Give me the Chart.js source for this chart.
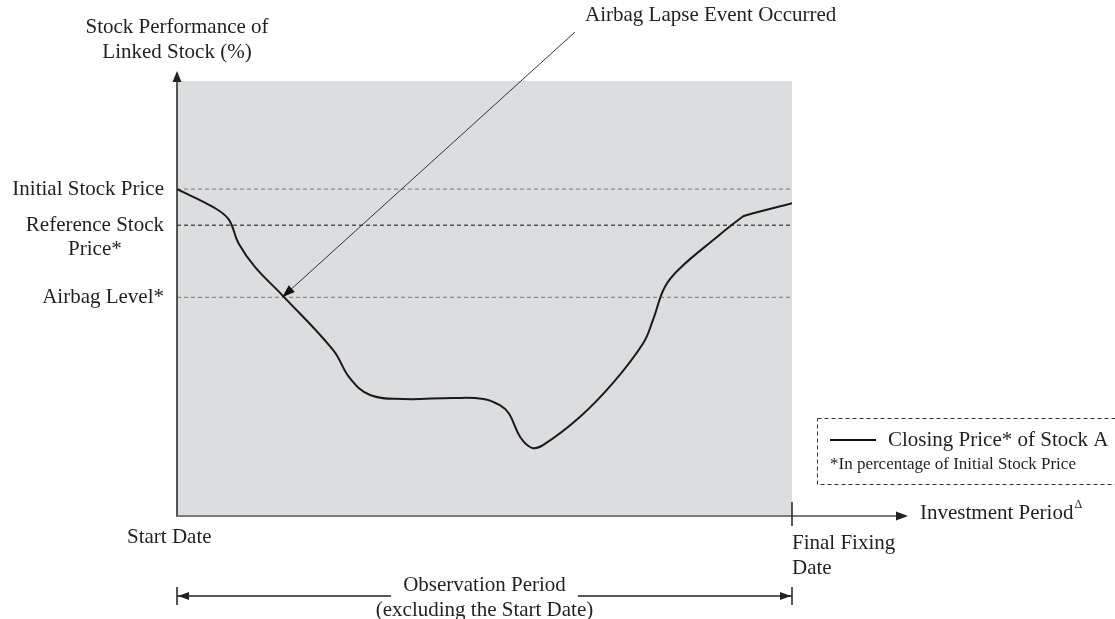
<!DOCTYPE html>
<html>
<head>
<meta charset="utf-8">
<script src="https://cdn.jsdelivr.net/npm/chart.js@4"></script>
<style>
  html, body { margin: 0; padding: 0; background: #fff; }
  #wrap { width: 1115px; height: 619px; position: relative; }
</style>
</head>
<body>
<div id="wrap"><canvas id="airbagChart"></canvas></div>
<script>
// closing price of stock A, in % of the initial stock price (x = share of the investment period)
const stockX = [0, 5.9, 8.4, 10.0, 12.7, 17.1, 25.4, 28.1, 31.4, 36.7, 44.9, 49.8, 52.5, 54.0, 55.8, 57.7, 59.5, 65.5, 70.9, 75.8, 77.4, 79.3, 81.8, 87.2, 91.9, 92.7, 100];
const stockY = [100, 94.5, 90.8, 83.5, 76.2, 67.7, 50.9, 42.4, 37.2, 36.0, 36.3, 36.0, 34.1, 31.5, 24.4, 21.1, 21.9, 30.5, 40.9, 53.0, 60.1, 70.1, 75.9, 84.5, 91.5, 92.1, 95.7];

// reference levels drawn as dashed lines
const levelNames = [['Initial Stock Price'], ['Reference Stock', 'Price*'], ['Airbag Level*']];
const levelValues = [100, 89, 67];
const levelColors = ['#8c8c8c', '#555555', '#8c8c8c'];

const lapseX = 17.1; // where the curve crosses the airbag level

const FONT = '"Liberation Serif", "Times New Roman", serif';
const INK = '#231f20';

function arrowHead(ctx, x, y, angle, len, half) {
    ctx.save();
    ctx.translate(x, y);
    ctx.rotate(angle);
    ctx.beginPath();
    ctx.moveTo(0, 0);
    ctx.lineTo(-len, -half);
    ctx.lineTo(-len, half);
    ctx.closePath();
    ctx.fill();
    ctx.restore();
}

const diagramPlugin = {
    id: 'diagram',
    beforeDraw(chart) {
        const { ctx, chartArea: a } = chart;
        ctx.save();
        ctx.fillStyle = '#dcdddf';
        ctx.fillRect(a.left, a.top, a.right - a.left, a.bottom - a.top);
        ctx.restore();
    },
    afterDraw(chart) {
        const { ctx, chartArea: a } = chart;
        const xs = chart.scales.x, ys = chart.scales.y;
        ctx.save();

        // y axis with arrow
        ctx.strokeStyle = '#222';
        ctx.fillStyle = '#222';
        ctx.lineWidth = 1.5;
        ctx.beginPath();
        ctx.moveTo(a.left, a.bottom);
        ctx.lineTo(a.left, 78);
        ctx.stroke();
        arrowHead(ctx, a.left, 71, -Math.PI / 2, 11, 4.5);

        // x axis with arrow
        ctx.strokeStyle = '#7a7a7a';
        ctx.fillStyle = '#222';
        ctx.lineWidth = 2;
        ctx.beginPath();
        ctx.moveTo(a.left, a.bottom - 1);
        ctx.lineTo(898, a.bottom - 1);
        ctx.stroke();
        arrowHead(ctx, 908, a.bottom - 1, 0, 12, 4.5);

        // final fixing tick
        ctx.strokeStyle = '#222';
        ctx.lineWidth = 1.5;
        ctx.beginPath();
        ctx.moveTo(a.right, 502);
        ctx.lineTo(a.right, 526);
        ctx.stroke();

        ctx.fillStyle = INK;
        ctx.font = '21px ' + FONT;
        ctx.textBaseline = 'middle';

        // y axis title
        ctx.textAlign = 'center';
        ctx.fillText('Stock Performance of', a.left, 27);
        ctx.fillText('Linked Stock (%)', a.left, 52);

        // level labels
        levelNames.forEach((lines, i) => {
            const py = ys.getPixelForValue(levelValues[i]);
            if (lines.length === 1) {
                ctx.textAlign = 'right';
                ctx.fillText(lines[0], 164, py);
            } else {
                const w = ctx.measureText(lines[0]).width;
                ctx.textAlign = 'center';
                lines.forEach((t, k) => ctx.fillText(t, 164 - w / 2, py + k * 24));
            }
        });

        // x axis texts
        ctx.textAlign = 'left';
        ctx.fillText('Start Date', 127, 537);
        ctx.fillText('Final Fixing', a.right, 543);
        ctx.fillText('Date', a.right, 568);
        ctx.fillText('Investment Period', 920, 513);
        const ipw = ctx.measureText('Investment Period').width;
        ctx.font = '12px ' + FONT;
        ctx.fillText('\u0394', 920 + ipw + 1, 505);

        // observation period
        ctx.font = '21px ' + FONT;
        const mid = (a.left + a.right) / 2;
        const obsY = 596;
        ctx.textAlign = 'center';
        ctx.fillText('Observation Period', mid, 585);
        ctx.fillText('(excluding the Start Date)', mid, 610);
        const gap = ctx.measureText('Observation Period').width / 2 + 12;
        ctx.strokeStyle = '#222';
        ctx.fillStyle = '#222';
        ctx.lineWidth = 1.5;
        ctx.beginPath();
        ctx.moveTo(a.left, obsY); ctx.lineTo(mid - gap, obsY);
        ctx.moveTo(mid + gap, obsY); ctx.lineTo(a.right, obsY);
        ctx.moveTo(a.left, 587); ctx.lineTo(a.left, 605);
        ctx.moveTo(a.right, 587); ctx.lineTo(a.right, 605);
        ctx.stroke();
        arrowHead(ctx, a.left + 1, obsY, Math.PI, 11, 4);
        arrowHead(ctx, a.right - 1, obsY, 0, 11, 4);

        // airbag lapse annotation
        const tipX = xs.getPixelForValue(lapseX);
        const tipY = ys.getPixelForValue(levelValues[2]);
        const sx = 575, sy = 32;
        const ang = Math.atan2(tipY - sy, tipX - sx);
        ctx.lineWidth = 1;
        ctx.strokeStyle = '#333';
        ctx.beginPath();
        ctx.moveTo(sx, sy);
        ctx.lineTo(tipX - Math.cos(ang) * 8, tipY - Math.sin(ang) * 8);
        ctx.stroke();
        ctx.fillStyle = '#111';
        arrowHead(ctx, tipX, tipY, ang, 13, 4.5);
        ctx.fillStyle = INK;
        ctx.textAlign = 'left';
        ctx.fillText('Airbag Lapse Event Occurred', 585, 15);

        // legend box
        ctx.strokeStyle = '#333';
        ctx.lineWidth = 1;
        ctx.setLineDash([4, 3]);
        ctx.strokeRect(817.5, 418.5, 310, 66);
        ctx.setLineDash([]);
        ctx.lineWidth = 2;
        ctx.strokeStyle = '#111';
        ctx.beginPath();
        ctx.moveTo(830, 440);
        ctx.lineTo(876, 440);
        ctx.stroke();
        ctx.fillText('Closing Price* of Stock A', 888, 440);
        ctx.font = '17px ' + FONT;
        ctx.fillText('*In percentage of Initial Stock Price', 830, 465);

        ctx.restore();
    }
};

const datasets = [{
    label: 'Closing Price* of Stock A',
    data: stockX.map((x, i) => ({ x: x, y: stockY[i] })),
    borderColor: '#1a1a1a',
    borderWidth: 2,
    pointRadius: 0,
    tension: 0.4,
    order: 0
}];
levelValues.forEach((v, i) => {
    datasets.push({
        label: levelNames[i].join(' '),
        data: [{ x: 0, y: v }, { x: 100, y: v }],
        borderColor: levelColors[i],
        borderWidth: 1.3,
        borderDash: [4, 3],
        pointRadius: 0,
        order: 1
    });
});

new Chart(document.getElementById('airbagChart'), {
    type: 'line',
    data: { datasets: datasets },
    options: {
        responsive: true,
        maintainAspectRatio: false,
        animation: false,
        layout: { padding: { left: 177, right: 323, top: 81, bottom: 102 } },
        scales: {
            x: { type: 'linear', min: 0, max: 100, display: false },
            y: { type: 'linear', min: 0, max: 133, display: false }
        },
        plugins: {
            legend: { display: false },
            tooltip: { enabled: false }
        }
    },
    plugins: [diagramPlugin]
});
</script>
</body>
</html>
